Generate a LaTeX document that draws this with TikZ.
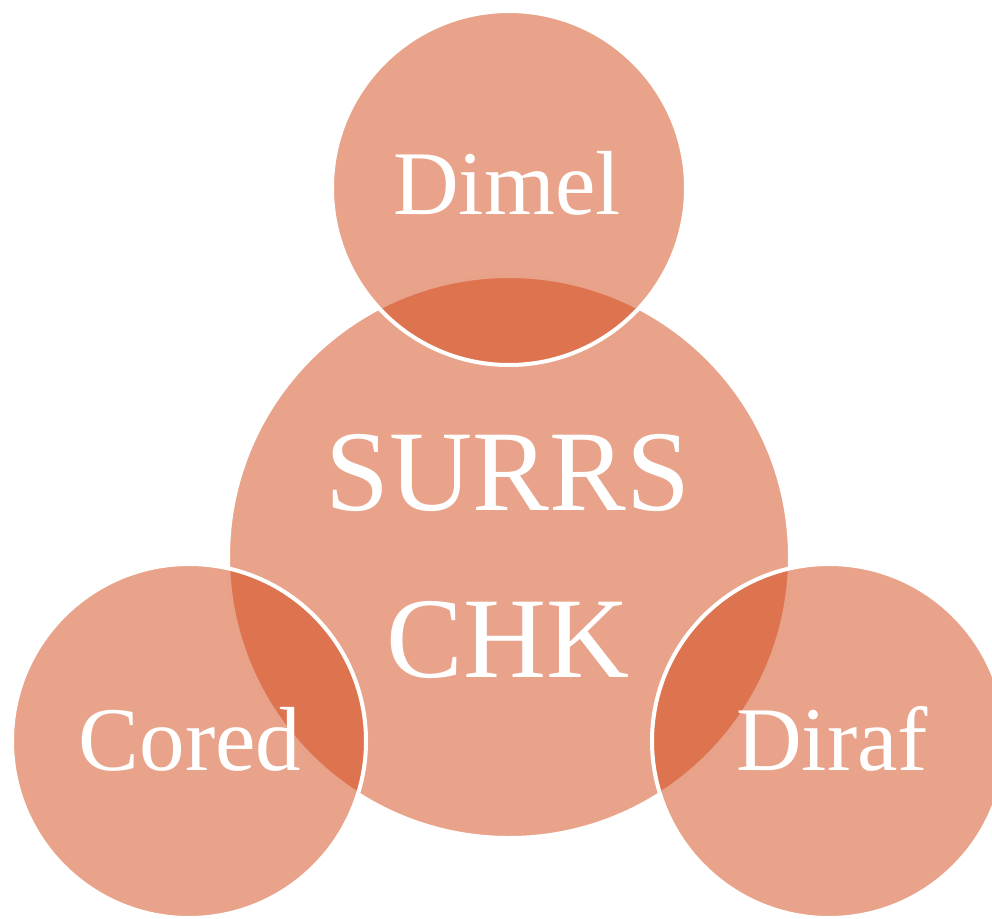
\documentclass[tikz,border=0pt]{standalone}
\usepackage{fontspec}
\setmainfont{Liberation Serif}
\definecolor{petal}{RGB}{211,71,21}
\begin{document}
\begin{tikzpicture}[x=1pt,y=-1pt,
  disc/.style={circle, fill=petal, fill opacity=0.5, draw=white, line width=4pt, inner sep=0pt, minimum size=#1},
  bigtxt/.style={text=white, inner sep=0pt, anchor=base, font=\fontsize{115}{130}\selectfont},
  smalltxt/.style={text=white, inner sep=0pt, anchor=base, font=\fontsize{91}{100}\selectfont}]
\useasboundingbox (0,0) rectangle (992,918);
\node[disc=562pt] (c) at (509,557) {};
\node[disc=354pt] (t) at (509,188) {};
\node[disc=354pt] (l) at (189,741) {};
\node[disc=354pt] (r) at (829,741) {};
\node[smalltxt] (tt) at (507,214) {Dimel};
\node[bigtxt] (c1) at (508,510) {SURRS};
\node[bigtxt] (c2) at (508,677) {CHK};
\node[smalltxt] (lt) at (190,770) {Cored};
\node[smalltxt] (rt) at (832,770) {Diraf};
\end{tikzpicture}
\end{document}
